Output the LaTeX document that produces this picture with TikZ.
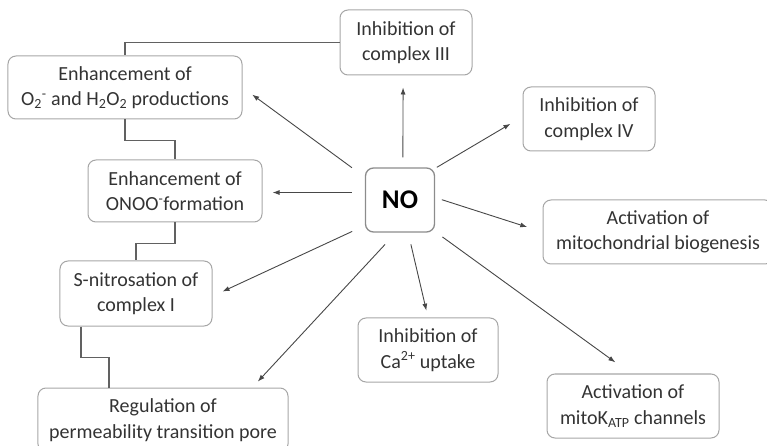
\documentclass[tikz,border=0pt]{standalone}
\usepackage{fontspec}
\setmainfont{Carlito}
\usetikzlibrary{arrows.meta}

\begin{document}
\begin{tikzpicture}
  [x=1bp,y=-1bp,
   every node/.style={draw=black!35,rounded corners=8bp,line width=1bp,text=black!80,
     align=center,inner sep=0pt,font=\fontsize{20bp}{25.5bp}\selectfont},
   effect/.style={-{Latex[length=7bp,width=5bp]},draw=black!72,line width=0.9bp},
   link/.style={draw=black!62,line width=1.3bp}]
  \useasboundingbox (0,0) rectangle (767,446);
  \node (no) [draw=black!45,line width=1.3bp,minimum width=69bp,minimum height=64bp,
    font=\fontsize{27bp}{30bp}\selectfont\bfseries,text=black] at (400,200) {NO};
  \node (c3) [minimum width=132bp,minimum height=65bp] at (406,42.5) {Inhibition of\\complex III};
  \node (ros) [minimum width=234bp,minimum height=63bp] at (125,87.5)
    {Enhancement of\\O\textsubscript{2}\textsuperscript{-} and H\textsubscript{2}O\textsubscript{2} productions};
  \node (c4) [minimum width=132bp,minimum height=64bp] at (589,119) {Inhibition of\\complex IV};
  \node (onoo) [minimum width=174bp,minimum height=62bp] at (175,191)
    {Enhancement of\\ONOO\textsuperscript{-}formation};
  \node (bio) [minimum width=230bp,minimum height=64bp] at (658,232)
    {Activation of\\mitochondrial biogenesis};
  \node (snit) [minimum width=152bp,minimum height=65bp] at (136,293.5) {S-nitrosation of\\complex I};
  \node (ca) [minimum width=140bp,minimum height=64bp] at (428,350)
    {Inhibition of\\Ca\textsuperscript{2+} uptake};
  \node (mitok) [minimum width=172bp,minimum height=64bp] at (633,406)
    {Activation of\\mitoK\textsubscript{ATP} channels};
  \node (ptp) [minimum width=250bp,minimum height=64bp] at (163,420)
    {Regulation of\\permeability transition pore};

  % effects of NO
  \path[every edge/.style=effect]
    (no.85) edge [shorten <=10bp,shorten >=12bp] (c3.265)
    (no.147) edge [shorten <=16bp,shorten >=12bp] (ros.east)
    (no.168) edge [shorten <=13bp,shorten >=10bp] (onoo.-1)
    (no.42) edge [shorten <=2bp,shorten >=14bp] (c4.178)
    (no.4) edge [shorten <=7bp,shorten >=16bp] (bio.west)
    (no.216) edge [shorten <=14bp,shorten >=11bp] (snit.-2)
    (no.263) edge [shorten <=16bp,shorten >=8bp] (ptp.20)
    (no.284) edge [shorten <=12bp,shorten >=7bp] (ca.north)
    (no.318) edge [shorten <=9bp,shorten >=19bp] (mitok.94)
    ;

  % chain on the left
  \draw[link] (c3.west) -| (ros.north);
  \draw[link] (ros.south) -- ++(0,21) -| (onoo.north);
  \draw[link] (onoo.south) -- ++(0,21) -| (snit.north);
  \draw[link] ([xshift=-55bp]snit.south) -- ++(0,31) -| ([xshift=-54bp]ptp.north);

\end{tikzpicture}
\end{document}
